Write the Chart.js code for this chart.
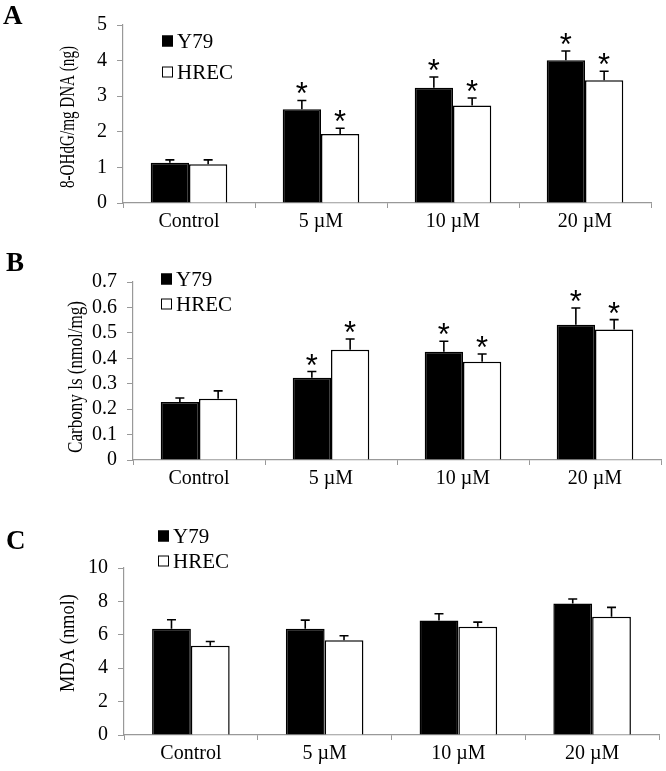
<!DOCTYPE html>
<html>
<head>
<meta charset="utf-8">
<script src="https://cdn.jsdelivr.net/npm/chart.js@4.4.1/dist/chart.umd.min.js"></script>
<style>
  body { margin: 0; background: #fff; }
  .panel { position: absolute; left: 0; }
</style>
</head>
<body>
<canvas id="chartA" class="panel" width="666" height="240" style="top:0"></canvas>
<canvas id="chartB" class="panel" width="666" height="260" style="top:240px"></canvas>
<canvas id="chartC" class="panel" width="666" height="271" style="top:500px"></canvas>
<script>
// ========== DATA ==========
const categories = ['Control', '5 \u00b5M', '10 \u00b5M', '20 \u00b5M'];
const seriesNames = ['Y79', 'HREC'];

// A: 8-OHdG
const ohdgY79 = [1.13, 2.63, 3.24, 4.01];
const ohdgY79Err = [0.08, 0.25, 0.30, 0.26];
const ohdgHrec = [1.09, 1.94, 2.74, 3.45];
const ohdgHrecErr = [0.12, 0.16, 0.21, 0.25];
const ohdgStars = [false, true, true, true];
const ohdgTicks = [0, 1, 2, 3, 4, 5];

// B: carbonyls
const carbY79 = [0.228, 0.323, 0.426, 0.532];
const carbY79Err = [0.016, 0.025, 0.041, 0.066];
const carbHrec = [0.241, 0.434, 0.386, 0.513];
const carbHrecErr = [0.031, 0.042, 0.031, 0.039];
const carbStars = [false, true, true, true];
const carbTicks = [0, 0.1, 0.2, 0.3, 0.4, 0.5, 0.6, 0.7];

// C: MDA
const mdaY79 = [6.36, 6.36, 6.86, 7.88];
const mdaY79Err = [0.54, 0.52, 0.40, 0.26];
const mdaHrec = [5.34, 5.68, 6.48, 7.08];
const mdaHrecErr = [0.26, 0.26, 0.28, 0.56];
const mdaStars = [false, false, false, false];
const mdaTicks = [0, 2, 4, 6, 8, 10];

const SERIF = "'Liberation Serif', 'Times New Roman', serif";

// ========== DECORATION PLUGIN ==========
// error bars, asterisks, legend, rotated y title, panel letter
const panelDecor = {
    id: 'panelDecor',
    afterDatasetsDraw(chart, args, opts) {
        const ctx = chart.ctx;
        const yScale = chart.scales.y;
        chart.data.datasets.forEach((ds, di) => {
            const meta = chart.getDatasetMeta(di);
            meta.data.forEach((bar, i) => {
                const top = yScale.getPixelForValue(ds.data[i] + ds.errors[i]);
                ctx.save();
                ctx.strokeStyle = '#000';
                ctx.lineWidth = 1.6;
                ctx.beginPath();
                ctx.moveTo(bar.x, bar.y);
                ctx.lineTo(bar.x, top);
                ctx.moveTo(bar.x - 4.5, top);
                ctx.lineTo(bar.x + 4.5, top);
                ctx.stroke();
                if (ds.stars[i]) {
                    ctx.fillStyle = '#000';
                    ctx.font = "31px 'Liberation Sans', Arial, sans-serif";
                    ctx.textAlign = 'center';
                    ctx.textBaseline = 'alphabetic';
                    const m = ctx.measureText('*');
                    const mid = top - 12;
                    ctx.fillText('*', bar.x, mid + (m.actualBoundingBoxAscent - m.actualBoundingBoxDescent) / 2);
                }
                ctx.restore();
            });
        });
    },
    afterDraw(chart, args, opts) {
        const ctx = chart.ctx;
        const area = chart.chartArea;
        ctx.save();
        ctx.fillStyle = '#000';

        // legend
        ctx.font = '21px ' + SERIF;
        ctx.textBaseline = 'middle';
        ctx.textAlign = 'left';
        chart.data.datasets.forEach((ds, di) => {
            const x = area.left + opts.legendX;
            const y = area.top + opts.legendY + di * opts.legendGap;
            ctx.fillStyle = ds.backgroundColor;
            ctx.fillRect(x, y - 5.5, 11, 11);
            ctx.strokeStyle = '#000';
            ctx.lineWidth = 1;
            ctx.strokeRect(x + 0.5, y - 5, 10, 10);
            ctx.fillStyle = '#000';
            ctx.fillText(ds.label, x + 15, y + 1);
        });

        // y title
        ctx.save();
        ctx.translate(opts.titleX, opts.titleY);
        ctx.rotate(-Math.PI / 2);
        ctx.textAlign = 'center';
        ctx.font = '22px ' + SERIF;
        ctx.fillText(opts.title, 0, 0, opts.titleLen);
        ctx.restore();

        // panel letter
        ctx.font = 'bold 27px ' + SERIF;
        ctx.textAlign = 'left';
        ctx.textBaseline = 'alphabetic';
        ctx.fillText(opts.letter, opts.letterX, opts.letterY);
        ctx.restore();
    }
};

// ========== CHARTS ==========
function makeChart(id, p) {
    const font = { family: SERIF, size: 20 };
    return new Chart(document.getElementById(id), {
        type: 'bar',
        data: {
            labels: categories,
            datasets: [
                { label: seriesNames[0], data: p.y79, errors: p.y79Err, stars: p.stars, backgroundColor: '#000', borderColor: '#000', borderWidth: 1.5, categoryPercentage: 0.58, barPercentage: 1 },
                { label: seriesNames[1], data: p.hrec, errors: p.hrecErr, stars: p.stars, backgroundColor: '#fff', borderColor: '#000', borderWidth: 1.5, categoryPercentage: 0.58, barPercentage: 1 }
            ]
        },
        options: {
            responsive: false,
            animation: false,
            layout: { padding: p.padding },
            plugins: {
                legend: { display: false },
                tooltip: { enabled: false },
                panelDecor: p.decor
            },
            scales: {
                x: {
                    grid: { offset: true, drawOnChartArea: false, tickLength: 5, color: '#999' },
                    border: { color: '#999', width: 1.2 },
                    ticks: { font, color: '#000', padding: 2 },
                    afterFit: s => { s.height = 30; }
                },
                y: {
                    min: 0,
                    max: p.ticks[p.ticks.length - 1],
                    afterBuildTicks: s => { s.ticks = p.ticks.map(v => ({ value: v })); },
                    grid: { drawOnChartArea: false, tickLength: 6, color: '#999' },
                    border: { color: '#999', width: 1.2 },
                    ticks: { font, color: '#000', padding: 10, autoSkip: false, callback: v => String(v) },
                    afterFit: s => { s.width = p.yWidth; }
                }
            }
        },
        plugins: [panelDecor]
    });
}

makeChart('chartA', {
    y79: ohdgY79, y79Err: ohdgY79Err, hrec: ohdgHrec, hrecErr: ohdgHrecErr, stars: ohdgStars, ticks: ohdgTicks,
    yWidth: 123, padding: { left: 0, top: 25, right: 15, bottom: 7 },
    decor: { legendX: 39, legendY: 16, legendGap: 31, title: '8-OHdG/mg DNA (ng)', titleX: 68, titleY: 117, titleLen: 142, letter: 'A', letterX: 3, letterY: 24 }
});

makeChart('chartB', {
    y79: carbY79, y79Err: carbY79Err, hrec: carbHrec, hrecErr: carbHrecErr, stars: carbStars, ticks: carbTicks,
    yWidth: 133, padding: { left: 0, top: 42, right: 5, bottom: 10 },
    decor: { legendX: 28, legendY: -3, legendGap: 25, title: 'Carbony ls (nmol/mg)', titleX: 76, titleY: 137, titleLen: 152, letter: 'B', letterX: 6, letterY: 31 }
});

makeChart('chartC', {
    y79: mdaY79, y79Err: mdaY79Err, hrec: mdaHrec, hrecErr: mdaHrecErr, stars: mdaStars, ticks: mdaTicks,
    yWidth: 124, padding: { left: 0, top: 68, right: 7, bottom: 6 },
    decor: { legendX: 34, legendY: -32, legendGap: 25, title: 'MDA (nmol)', titleX: 68, titleY: 143, titleLen: 98, letter: 'C', letterX: 6, letterY: 49 }
});
</script>
</body>
</html>
